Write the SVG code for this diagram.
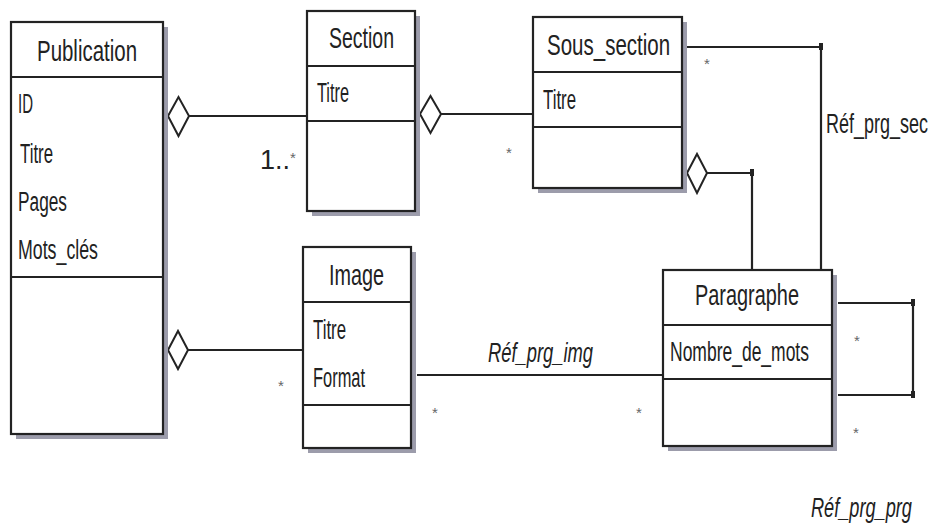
<svg xmlns="http://www.w3.org/2000/svg" width="934" height="528" viewBox="0 0 934 528">
<style>
.box{fill:#ffffff;stroke:#232323;stroke-width:2.2}
.shadow{fill:#9c9cab}
.div{stroke:#232323;stroke-width:2.2}
.t{font-family:"Liberation Sans",Arial,sans-serif;fill:#222;font-size:27px}
.h{font-size:29px}
.it{font-style:italic}
.m{font-family:"Liberation Sans",Arial,sans-serif;fill:#666;font-size:15px}
.c{fill:none;stroke:#232323;stroke-width:2.2}
.dia{fill:#ffffff;stroke:#232323;stroke-width:2}
.dot{fill:#232323}
</style>
<rect width="934" height="528" fill="#ffffff"/>
<g id="connectors">
  <line class="c" x1="189" y1="116" x2="307" y2="116"/>
  <polygon class="dia" points="168,116 178.5,97 189,116 178.5,136"/>
  <line class="c" x1="441" y1="114" x2="533" y2="114"/>
  <polygon class="dia" points="420,114 430.5,96 441,114 430.5,133"/>
  <line class="c" x1="188" y1="350" x2="303" y2="350"/>
  <polygon class="dia" points="168,350 178,331 188,350 178,369"/>
  <line class="c" x1="417" y1="375" x2="663" y2="375"/>
  <polyline class="c" points="707,173 752,173 752,270"/>
  <polygon class="dia" points="687,173 697,154 707,173 697,193"/>
  <rect class="dot" x="750" y="169" width="4" height="7"/>
  <polyline class="c" points="687,47 821,47 821,270"/>
  <rect class="dot" x="819" y="43" width="4" height="7"/>
  <polyline class="c" points="838,303 913,303 913,395 838,395"/>
  <rect class="dot" x="911" y="299" width="4" height="7"/>
  <rect class="dot" x="911" y="391" width="4" height="7"/>
  <text class="t" x="260" y="169" font-size="22">1..<tspan font-size="15" fill="#666" dy="-6">*</tspan></text>
  <text class="m" x="506" y="158">*</text>
  <text class="m" x="704" y="69">*</text>
  <text class="m" x="278" y="391">*</text>
  <text class="m" x="432" y="418">*</text>
  <text class="m" x="636" y="418">*</text>
  <text class="m" x="854" y="346">*</text>
  <text class="m" x="853" y="438">*</text>
  <text class="t it" x="488" y="362" textLength="105" lengthAdjust="spacingAndGlyphs">Réf_prg_img</text>
  <text class="t" transform="translate(826,133) scale(0.667,1)">Réf_prg_sec</text>
  <text class="t it" transform="translate(811,517) scale(0.673,1)">Réf_prg_prg</text>
</g>
<g id="publication">
  <rect class="shadow" x="16" y="27" width="152" height="412"/>
  <rect class="box" x="11" y="22" width="152" height="412"/>
  <line class="div" x1="11" y1="77" x2="163" y2="77"/>
  <line class="div" x1="11" y1="277" x2="163" y2="277"/>
  <text class="t h" x="37" y="61" textLength="100" lengthAdjust="spacingAndGlyphs">Publication</text>
  <text class="t" x="18" y="113" textLength="15" lengthAdjust="spacingAndGlyphs">ID</text>
  <text class="t" x="20" y="163" textLength="33" lengthAdjust="spacingAndGlyphs">Titre</text>
  <text class="t" x="18" y="211" textLength="49" lengthAdjust="spacingAndGlyphs">Pages</text>
  <text class="t" x="18" y="259" textLength="80" lengthAdjust="spacingAndGlyphs">Mots_clés</text>
</g>
<g id="section">
  <rect class="shadow" x="312" y="16" width="108" height="200"/>
  <rect class="box" x="307" y="11" width="108" height="200"/>
  <line class="div" x1="307" y1="66" x2="415" y2="66"/>
  <line class="div" x1="307" y1="121" x2="415" y2="121"/>
  <text class="t h" x="329" y="48" textLength="65" lengthAdjust="spacingAndGlyphs">Section</text>
  <text class="t" x="317" y="102" textLength="32" lengthAdjust="spacingAndGlyphs">Titre</text>
</g>
<g id="sous_section">
  <rect class="shadow" x="538" y="22" width="149" height="171"/>
  <rect class="box" x="533" y="17" width="149" height="171"/>
  <line class="div" x1="533" y1="72" x2="682" y2="72"/>
  <line class="div" x1="533" y1="127" x2="682" y2="127"/>
  <text class="t h" transform="translate(547,55) scale(0.707,1)">Sous_section</text>
  <text class="t" x="543" y="109" textLength="33" lengthAdjust="spacingAndGlyphs">Titre</text>
</g>
<g id="image">
  <rect class="shadow" x="308" y="252" width="108" height="201"/>
  <rect class="box" x="303" y="247" width="108" height="201"/>
  <line class="div" x1="303" y1="302" x2="411" y2="302"/>
  <line class="div" x1="303" y1="405" x2="411" y2="405"/>
  <text class="t h" x="329" y="285" textLength="55" lengthAdjust="spacingAndGlyphs">Image</text>
  <text class="t" x="313" y="339" textLength="33" lengthAdjust="spacingAndGlyphs">Titre</text>
  <text class="t" x="313" y="387" textLength="52" lengthAdjust="spacingAndGlyphs">Format</text>
</g>
<g id="paragraphe">
  <rect class="shadow" x="668" y="275" width="169" height="176"/>
  <rect class="box" x="663" y="270" width="169" height="176"/>
  <line class="div" x1="663" y1="325" x2="832" y2="325"/>
  <line class="div" x1="663" y1="379" x2="832" y2="379"/>
  <text class="t h" x="695" y="305" textLength="104" lengthAdjust="spacingAndGlyphs">Paragraphe</text>
  <text class="t" transform="translate(670,361) scale(0.648,1)">Nombre_de_mots</text>
</g>
</svg>
